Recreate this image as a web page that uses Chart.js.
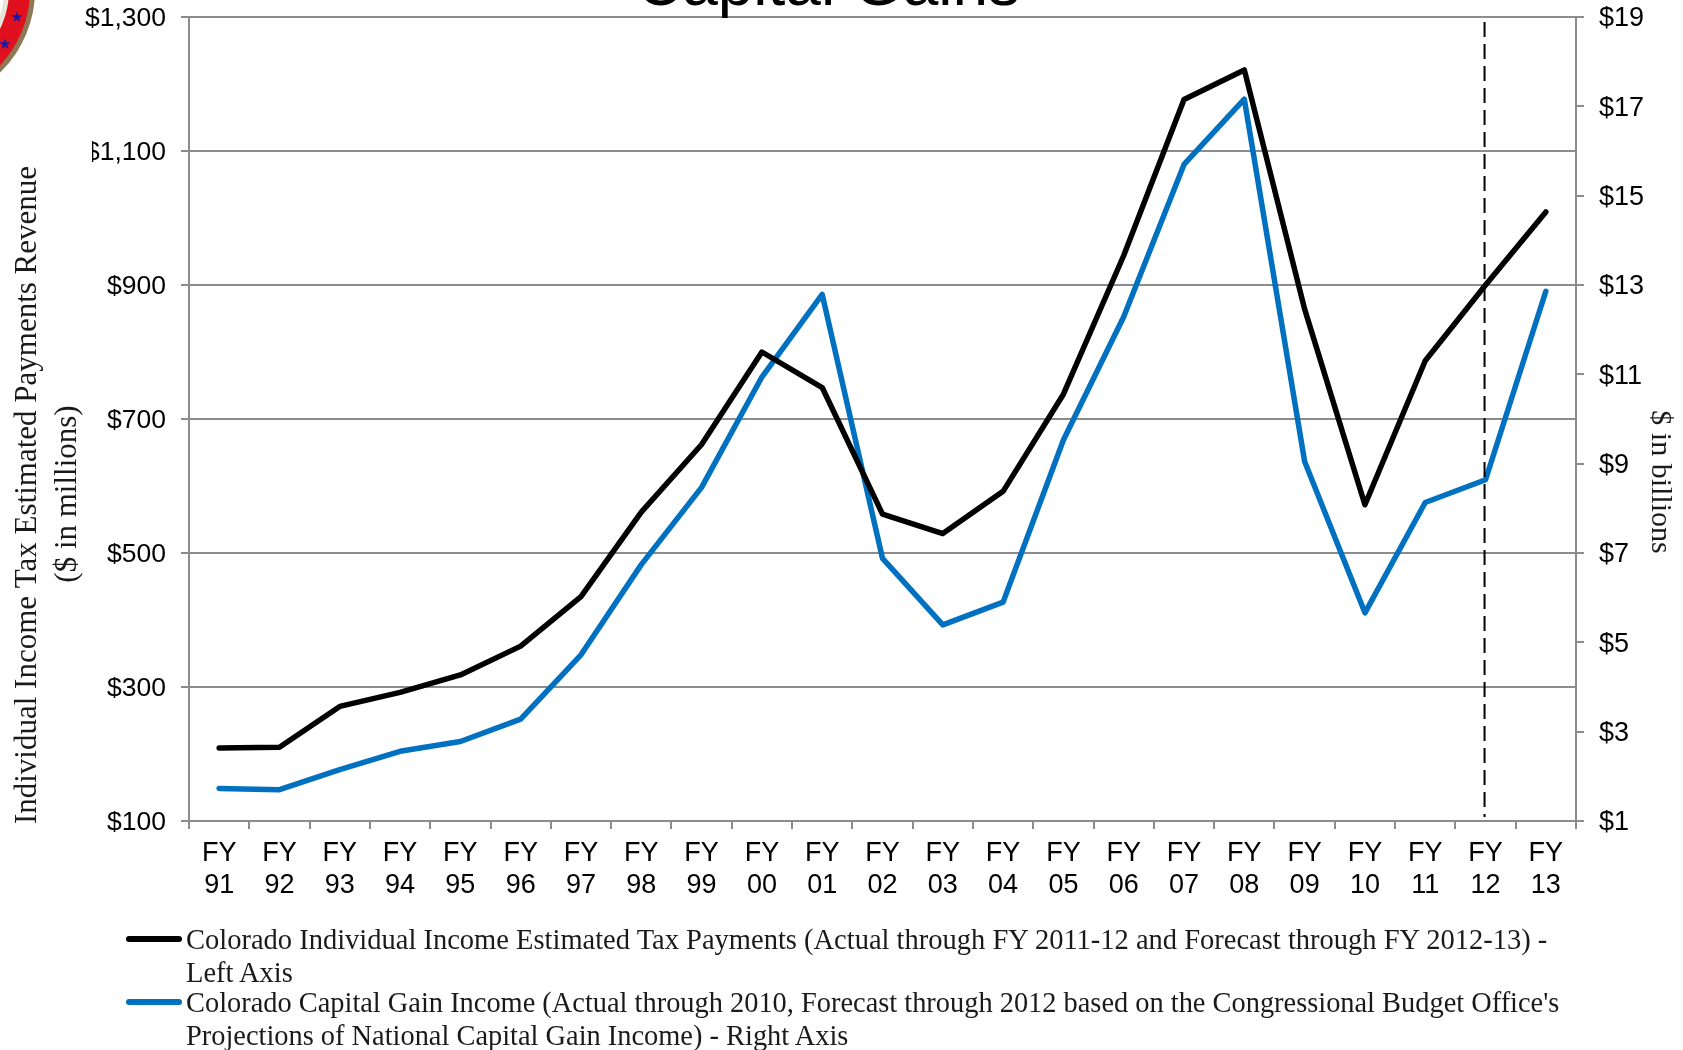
<!DOCTYPE html>
<html>
<head>
<meta charset="utf-8">
<script src="https://cdn.jsdelivr.net/npm/chart.js@4"></script>
<style>
  html, body { margin: 0; background: #fff; }
  #wrap { position: relative; width: 1683px; height: 1050px; overflow: hidden; }
  #chart { position: absolute; left: 0; top: 0; }
  .legend { position: absolute; left: 186px; width: 1450px; font: 28.5px/32.5px "Liberation Serif", serif; color: #1a1a1a; }
  .swatch { position: absolute; left: 126px; width: 56px; height: 6px; border-radius: 3px; }
</style>
</head>
<body>
<div id="wrap">
  <canvas id="chart" width="1683" height="1050"></canvas>
  <div class="swatch" style="top:936px;background:#000"></div>
  <div class="legend" style="top:924px">Colorado Individual Income Estimated Tax Payments (Actual through FY 2011-12 and Forecast through FY 2012-13) -<br>Left Axis</div>
  <div class="swatch" style="top:999px;background:#0070c0"></div>
  <div class="legend" style="top:987px;font-size:28.4px">Colorado Capital Gain Income (Actual through 2010, Forecast through 2012 based on the Congressional Budget Office's<br>Projections of National Capital Gain Income) - Right Axis</div>
</div>
<script>
const years = ['91','92','93','94','95','96','97','98','99','00','01','02','03','04','05','06','07','08','09','10','11','12','13'];
const categories = years.map(y => ['FY', y]);
const estimatedPayments = [209,210,271,292,318,361,435,561,662,800,747,558,529,592,737,944,1177,1221,864,572,787,900,1009];
const capitalGains = [1.73,1.70,2.15,2.56,2.78,3.28,4.72,6.74,8.47,10.94,12.79,6.88,5.39,5.90,9.53,12.29,15.70,17.16,9.05,5.66,8.13,8.64,12.86];
const leftTicks = [100,300,500,700,900,1100,1300];
const rightTicks = [1,3,5,7,9,11,13,15,17,19];
const forecastStart = 21;
const titleText = 'Capital Gains';
const leftTitle = ['Individual Income Tax Estimated Payments Revenue', '($ in millions)'];
const rightTitle = '$ in billions';

const axisGray = '#8c8c8c';

function rotatedText(ctx, text, x, y, angle) {
    ctx.save();
    ctx.translate(x, y);
    ctx.rotate(angle);
    ctx.fillText(text, 0, 0);
    ctx.restore();
}

const extras = {
    id: 'extras',
    afterDraw(chart) {
        const ctx = chart.ctx;
        const x = chart.scales.x.getPixelForValue(forecastStart) - 1;
        ctx.save();
        // forecast divider
        ctx.strokeStyle = '#000';
        ctx.lineWidth = 2;
        ctx.setLineDash([15, 7]);
        ctx.beginPath();
        ctx.moveTo(x, 22);
        ctx.lineTo(x, 817);
        ctx.stroke();
        ctx.setLineDash([]);
        // title runs off the top of the slide
        ctx.fillStyle = '#000';
        ctx.font = '64px "Liberation Sans"';
        ctx.textAlign = 'center';
        ctx.textBaseline = 'alphabetic';
        ctx.fillText(titleText, 828, 5);
        // axis titles sit off centre in the original
        ctx.fillStyle = '#1a1a1a';
        ctx.textBaseline = 'middle';
        ctx.font = '31px "Liberation Serif"';
        rotatedText(ctx, leftTitle[0], 28, 495, -Math.PI / 2);
        rotatedText(ctx, leftTitle[1], 68, 494, -Math.PI / 2);
        ctx.font = '30px "Liberation Serif"';
        rotatedText(ctx, rightTitle, 1660, 482, Math.PI / 2);
        // seal in the corner
        const rings = [[115, '#8d7a55'], [110, '#e0101f'], [89, '#e8e4d8'], [84, '#ffffff']];
        rings.forEach(r => {
            ctx.fillStyle = r[1];
            ctx.beginPath();
            ctx.arc(-80, -10, r[0], 0, Math.PI * 2);
            ctx.fill();
        });
        ctx.fillStyle = '#1a1aa8';
        ctx.font = '15px "DejaVu Sans"';
        ctx.textBaseline = 'alphabetic';
        ctx.fillText('★', 17, 22);
        ctx.fillText('★', 5, 49);
        // the $ of $1,100 is cut off in the original
        ctx.fillStyle = '#fff';
        ctx.fillRect(78, 135, 14, 34);
        ctx.restore();
    }
};

new Chart(document.getElementById('chart'), {
    type: 'line',
    data: {
        labels: categories,
        datasets: [
            { data: estimatedPayments, yAxisID: 'y', borderColor: '#000', borderWidth: 5.5, pointRadius: 0, tension: 0, borderCapStyle: 'round', borderJoinStyle: 'round' },
            { data: capitalGains, yAxisID: 'y1', borderColor: '#0070c0', borderWidth: 5.5, pointRadius: 0, tension: 0, borderCapStyle: 'round', borderJoinStyle: 'round' }
        ]
    },
    options: {
        responsive: false,
        animation: false,
        layout: { padding: { top: 17, left: 8, right: 10, bottom: 0 } },
        plugins: { legend: { display: false }, title: { display: false }, tooltip: { enabled: false } },
        scales: {
            x: {
                offset: true,
                grid: { offset: true, drawOnChartArea: false, color: axisGray, lineWidth: 2, tickLength: 8 },
                border: { color: axisGray, width: 2 },
                ticks: { color: '#000', font: { family: 'Liberation Sans', size: 27 }, maxRotation: 0, autoSkip: false, padding: 8 },
                afterFit(s) { s.height = 229; }
            },
            y: {
                position: 'left',
                min: 100, max: 1300,
                afterBuildTicks(s) { s.ticks = leftTicks.map(v => ({ value: v })); },
                grid: { color: axisGray, lineWidth: 2, tickLength: 8 },
                border: { color: axisGray, width: 2 },
                ticks: { color: '#000', font: { family: 'Liberation Sans', size: 26.5 }, padding: 15, labelOffset: 2, callback: v => '$' + v.toLocaleString('en-US') },
                afterFit(s) { s.width = 181; s.paddingTop = 0; s.paddingBottom = 0; }
            },
            y1: {
                position: 'right',
                min: 1, max: 19,
                afterBuildTicks(s) { s.ticks = rightTicks.map(v => ({ value: v })); },
                grid: { drawOnChartArea: false, color: axisGray, lineWidth: 2, tickLength: 8 },
                border: { color: axisGray, width: 2 },
                ticks: { color: '#000', font: { family: 'Liberation Sans', size: 27 }, padding: 15, labelOffset: 2, callback: v => '$' + v },
                afterFit(s) { s.width = 97; s.paddingTop = 0; s.paddingBottom = 0; }
            }
        }
    },
    plugins: [extras]
});
</script>
</body>
</html>
